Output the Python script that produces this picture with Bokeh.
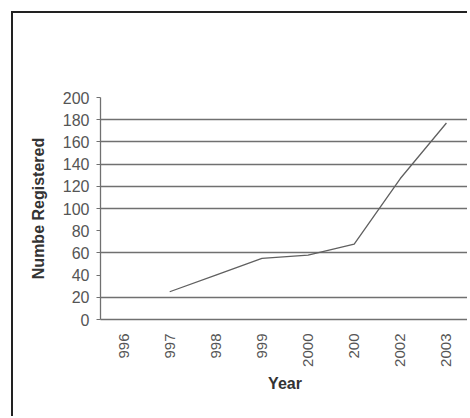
import math
from bokeh.plotting import figure
from bokeh.models import FixedTicker, Range1d, Label
from bokeh.embed import file_html
from bokeh.resources import INLINE

# ---- data ----
years = ["996", "997", "998", "999", "2000", "200", "2002", "2003"]
registrations = [float("nan"), 25, 40, 55, 58, 68, 127, 177]
y_ticks = [0, 20, 40, 60, 80, 100, 120, 140, 160, 180, 200]
grid_values = [20, 60, 100, 120, 140, 160, 180]

title_text = "Intensive Care Registrations: 1996-2003"
x_label = "Year"
y_label = "Numbe Registered"

p = figure(
    x_range=years,
    y_range=Range1d(0, 200),
    width=456,
    height=405,
    output_backend="svg",
    toolbar_location=None,
    min_border_left=87,
    min_border_right=0,
    min_border_top=84,
    min_border_bottom=99,
    margin=(11, 0, 0, 11),
)
p.styles = {"border-left": "2px solid #222222", "border-top": "2px solid #222222"}

p.outline_line_color = None
p.background_fill_color = "white"
p.border_fill_color = "white"

# title placed above the frame (centred on the whole chart box, as in the reference)
title = Label(
    x=3.14, y=244.5, x_units="data", y_units="data",
    text=title_text,
    text_font="Liberation Sans", text_font_size="19px",
    text_color="#333333", text_align="center", text_baseline="middle",
)
p.add_layout(title)

p.line(years, registrations, line_color="#606060", line_width=1.3)

# grid
p.xgrid.grid_line_color = None
p.ygrid.ticker = FixedTicker(ticks=grid_values)
p.ygrid.grid_line_color = "#707070"
p.ygrid.grid_line_width = 1.3

# y axis
p.yaxis.ticker = FixedTicker(ticks=y_ticks)
p.yaxis.axis_line_color = "#707070"
p.yaxis.axis_line_width = 1.3
p.yaxis.major_tick_line_color = "#707070"
p.yaxis.major_tick_in = 0
p.yaxis.major_tick_out = 4
p.yaxis.minor_tick_line_color = None
p.yaxis.major_label_text_font = "Liberation Sans"
p.yaxis.major_label_text_font_size = "16px"
p.yaxis.major_label_text_color = "#555555"
p.yaxis.major_label_standoff = 7
p.yaxis.axis_label = y_label
p.yaxis.axis_label_text_font = "Liberation Sans"
p.yaxis.axis_label_text_font_size = "16px"
p.yaxis.axis_label_text_font_style = "bold"
p.yaxis.axis_label_text_color = "#333333"
p.yaxis.axis_label_standoff = 13

# x axis
p.xaxis.axis_line_color = "#707070"
p.xaxis.axis_line_width = 1.3
p.xaxis.major_tick_line_color = None
p.xaxis.minor_tick_line_color = None
p.xaxis.major_label_orientation = math.pi / 2
p.xaxis.major_label_text_font = "Liberation Sans"
p.xaxis.major_label_text_font_size = "15px"
p.xaxis.major_label_text_color = "#555555"
p.xaxis.major_label_standoff = 8
p.xaxis.axis_label = x_label
p.xaxis.axis_label_text_font = "Liberation Sans"
p.xaxis.axis_label_text_font_size = "16px"
p.xaxis.axis_label_text_font_style = "bold"
p.xaxis.axis_label_text_color = "#333333"
p.xaxis.axis_label_standoff = 5

open("out.html", "w").write(file_html(p, INLINE))
